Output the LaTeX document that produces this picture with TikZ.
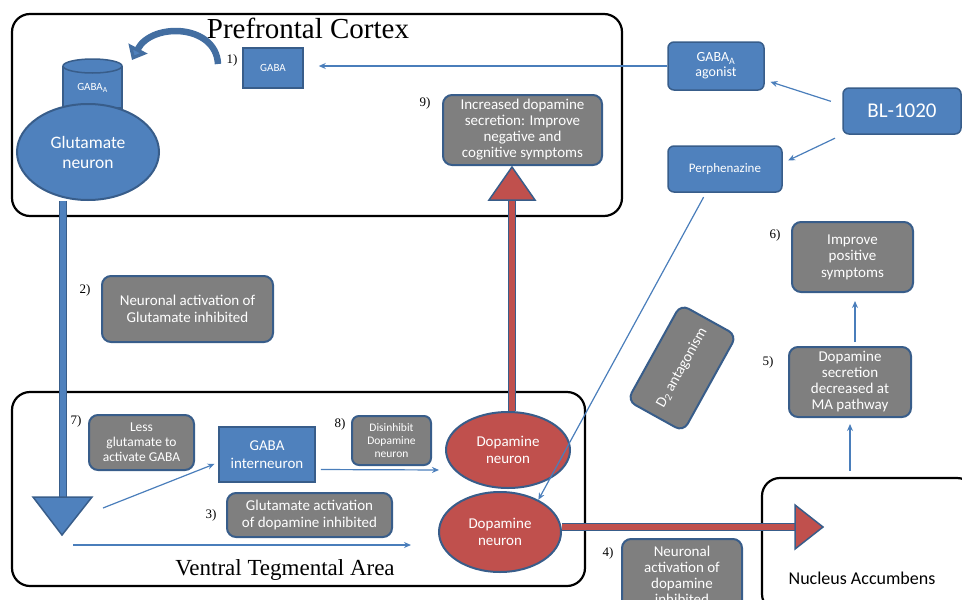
\documentclass[tikz,border=0pt]{standalone}
\usepackage{fontspec}
\setmainfont{Liberation Serif}
\setsansfont{Carlito}
\usetikzlibrary{arrows.meta, shapes.geometric}

\definecolor{bluefill}{RGB}{79,129,189}
\definecolor{blueline}{RGB}{56,93,138}
\definecolor{grayfill}{RGB}{127,127,127}
\definecolor{redfill}{RGB}{192,80,77}
\definecolor{linkblue}{RGB}{74,126,187}

\newcommand{\fs}[2]{\fontsize{#1}{#2}\selectfont}

\pgfdeclarelayer{back}
\pgfsetlayers{back,main}

\begin{document}
\begin{tikzpicture}[x=1pt, y=-1pt,
region/.style={draw, line width=2.2pt, rounded corners=18pt, inner sep=0pt},
bluebox/.style={draw=blueline, line width=1.5pt, fill=bluefill, text=white, font=\sffamily, align=center, inner sep=1pt},
graybox/.style={draw=blueline, line width=2pt, fill=grayfill, text=white, rounded corners=9pt, font=\sffamily\fs{15}{16.5}, align=center, inner sep=1pt},
neuron/.style={ellipse, draw=blueline, line width=2pt, text=white, font=\sffamily\fs{15}{17}, align=center, inner sep=0pt},
num/.style={font=\fs{13}{15}},
link/.style={draw=linkblue, line width=1.2pt, -{Stealth[length=7pt,width=6pt]}},
shaft/.style={draw=blueline, line width=1.2pt, double distance=5.5pt}]

\useasboundingbox (0,0) rectangle (962,600);

% the three areas
\begin{pgfonlayer}{back}
\node[region, minimum width=610, minimum height=202] (pfc) at (317,115) {};
\node[region, minimum width=573, minimum height=194] (vta) at (298.5,489) {};
\node[region, minimum width=213, minimum height=134] (nac) at (868.5,545) {};
\end{pgfonlayer}
\node[font=\fs{29}{31}] (pfctitle) at (308,28) {Prefrontal Cortex};
\node[font=\fs{23}{25}] (vtatitle) at (285,570) {Ventral Tegmental Area};
\node[font=\sffamily\fs{18}{20}] (nactitle) at (862,578) {Nucleus Accumbens};

% receptor on the glutamate neuron
\filldraw[fill=bluefill, draw=blueline, line width=1.5pt] (63,66) -- (63,108) -- (122,108) -- (122,66);
\filldraw[fill=bluefill, draw=blueline, line width=1.5pt] (92.5,66) ellipse [x radius=29.5, y radius=7];
\node[font=\sffamily\fs{11}{12}, text=white] (gabaa) at (92.5,88) {GABA\textsubscript{A}};
\node[neuron, fill=bluefill, minimum width=142, minimum height=96, font=\sffamily\fs{17.5}{20}] (glu) at (88,152) {Glutamate\\neuron};

\node[bluebox, minimum width=60, minimum height=40, font=\sffamily\fs{11}{12}] (gaba) at (273,68) {GABA};
\node[num] (n1) at (232,60) {1)};
\draw[line width=6.5pt, draw=bluefill!85!black, -{Triangle[length=13pt,width=21pt, fill=bluefill]}] (218,64) .. controls (216,24) and (152,22) .. (132,60);

% drug side
\node[bluebox, rounded corners=6pt, minimum width=96, minimum height=48, font=\sffamily\fs{14}{15}] (agon) at (716,66) {GABA\textsubscript{A}\\agonist};
\node[bluebox, rounded corners=6pt, minimum width=118, minimum height=46, font=\sffamily\fs{21}{22}] (bl) at (902,111) {BL-1020};
\node[bluebox, rounded corners=6pt, minimum width=114, minimum height=46, font=\sffamily\fs{13}{14}] (perph) at (725,169) {Perphenazine};

\node[graybox, minimum width=159, minimum height=70, font=\sffamily\fs{15}{16}] (inc) at (522.5,130) {Increased dopamine\\secretion: Improve\\negative and\\cognitive symptoms};
\node[num] (n9) at (425,103) {9)};

\node[graybox, rotate=61, minimum width=110, minimum height=64] (d2) at (682,368) {D\textsubscript{2} antagonism};
\node[graybox, minimum width=121, minimum height=70] (pos) at (852.5,257) {Improve\\positive\\symptoms};
\node[num] (n6) at (775,235) {6)};
\node[graybox, minimum width=122, minimum height=70, font=\sffamily\fs{15}{16}] (ma) at (850,382) {Dopamine\\secretion\\decreased at\\MA pathway};
\node[num] (n5) at (768,362) {5)};

\node[graybox, minimum width=171, minimum height=66] (glutinh) at (187.5,309) {Neuronal activation of\\Glutamate inhibited};
\node[num] (n2) at (85,290) {2)};

% ventral tegmental area
\node[graybox, minimum width=105, minimum height=55, font=\sffamily\fs{13.5}{15}] (less) at (141.5,442.5) {Less\\glutamate to\\activate GABA};
\node[num] (n7) at (76,421) {7)};
\node[bluebox, minimum width=96, minimum height=55, font=\sffamily\fs{15}{18}] (gint) at (267,454.5) {GABA\\interneuron};
\node[graybox, minimum width=79, minimum height=49, rounded corners=7pt, font=\sffamily\fs{11.5}{13}] (disinh) at (391.5,440.5) {Disinhibit\\Dopamine\\neuron};
\node[num] (n8) at (340,424) {8)};
\node[neuron, fill=redfill, minimum width=124, minimum height=76] (da1) at (508,450) {Dopamine\\neuron};
\node[neuron, fill=redfill, minimum width=122, minimum height=80] (da2) at (500,532) {Dopamine\\neuron};
\node[graybox, minimum width=165, minimum height=44] (glutact) at (309.5,515) {Glutamate activation\\of dopamine inhibited};
\node[num] (n3) at (211,515) {3)};

\node[graybox, minimum width=120, minimum height=72, font=\sffamily\fs{15}{16}] (neuract) at (682,575) {Neuronal\\activation of\\dopamine\\inhibited};
\node[num] (n4) at (608,553) {4)};

\coordinate (gbase) at (63,497);
\coordinate (gout1) at (103,508);
\coordinate (gout2) at (73,545);
\coordinate (rbase) at (512,200);
\coordinate (nbase) at (797,527);

\begin{pgfonlayer}{back}
\draw[shaft, double=bluefill] ([xshift=-25pt]glu.south) -- (gbase);
\draw[shaft, double=redfill] (da1.north -| rbase) -- (rbase);
\draw[shaft, double=redfill] ([yshift=5pt]da2.east) -- (nbase);
\end{pgfonlayer}

% arrow heads of the thick pathways
\filldraw[fill=bluefill, draw=blueline, line width=1.5pt] (33,497) -- (92,497) -- (62,535) -- cycle;
\filldraw[fill=redfill, draw=blueline, line width=1.5pt] (489,200) -- (535,200) -- (512,167) -- cycle;
\filldraw[fill=redfill, draw=blueline, line width=1.5pt] (795,505) -- (823,527) -- (795,549) -- cycle;

\draw[link, shorten >=15pt] (agon.west) -- (agon.west -| gaba.east);
\draw[link, shorten <=12pt, shorten >=6pt] ([yshift=6pt]bl.west) -- ([yshift=-14pt]agon.east);
\draw[link, shorten <=8pt, shorten >=6pt] (bl.south west) -- ([yshift=6pt]perph.east);
\draw[link, shorten <=5pt] ([xshift=-19pt]perph.south) -- (da2.40);
\draw[link, shorten <=4pt, shorten >=8pt] ([xshift=5pt]ma.north) -- ([xshift=2.5pt]pos.south);
\draw[link, shorten <=6pt, shorten >=6pt] ([xshift=-18.5pt]nac.north) -- (ma.south);
\draw[link, shorten >=4pt] (gout1) -- ([yshift=-8pt]gint.west);
\draw[link, shorten <=5pt, shorten >=6pt] ([yshift=-15pt]gint.east) -- ([yshift=-20pt]da1.west);
\draw[link, shorten >=27pt] (gout2) -- (gout2 -| da2.west);

\end{tikzpicture}
\end{document}
